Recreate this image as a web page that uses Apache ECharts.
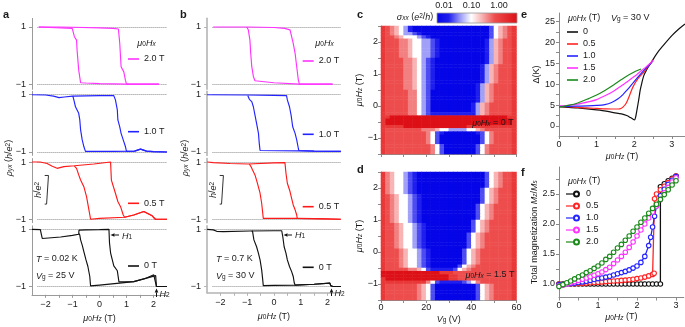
<!DOCTYPE html>
<html><head><meta charset="utf-8">
<script src="https://cdn.jsdelivr.net/npm/echarts@6/dist/echarts.min.js"></script>
<style>html,body{margin:0;padding:0;background:#fff}#chart{width:685px;height:327px}</style>
</head><body><div id="chart"></div><script>
// ---------------- DATA ----------------
const loopNames = ['2.0 T', '1.0 T', '0.5 T', '0 T'];
const loopColors = ['#ff33ff', '#2323ff', '#ff1a1a', '#111111'];
// panel a (T = 0.02 K, Vg = 25 V): [mu0Hz (T), rho_yx (h/e^2)]
const aPinkUp = [[-2.25,1],[-1.5,1],[-1.0,0.99],[0,0.97],[0.5,0.95],[0.7,0.93],[0.72,0.89],[0.75,0.43],[0.8,-0.39],[0.9,-0.57],[0.96,-0.86],[1.0,-1],[2.2,-1]];
const aPinkDown = [[2.2,-1],[1.0,-1],[0,-0.98],[-0.5,-0.96],[-0.7,-0.95],[-0.77,-0.51],[-0.83,0.19],[-0.85,0.54],[-0.93,0.66],[-1.01,0.95],[-1.04,1],[-2.25,1]];
const aBlueUp = [[-2.5,1],[-2.0,0.99],[-1.7,0.95],[-1.5,0.9],[-1.3,0.92],[-1.0,0.95],[0,0.97],[0.53,0.97],[0.59,0.82],[0.66,0.47],[0.68,0.12],[0.75,-0.12],[0.8,-0.35],[0.9,-0.64],[0.96,-0.81],[1.0,-0.98],[1.3,-0.97],[1.52,-0.9],[1.74,-0.97],[2.0,-0.99],[2.5,-1]];
const aBlueDown = [[2.5,-1],[2.0,-0.99],[1.74,-0.97],[1.52,-0.9],[1.3,-0.97],[0.5,-0.98],[-0.52,-0.98],[-0.58,-0.81],[-0.64,-0.58],[-0.7,-0.23],[-0.73,0.12],[-0.77,0.35],[-0.89,0.58],[-0.95,0.82],[-0.98,0.93],[-1.0,0.95]];
const aRedUp = [[-2.5,1],[-2.2,1],[-1.94,0.95],[-1.75,0.85],[-1.57,0.78],[-1.32,0.84],[-0.93,0.87],[-0.21,0.93],[0.41,1],[0.44,0.37],[0.59,-0.09],[0.68,-0.38],[0.78,-0.56],[0.88,-0.85],[0.93,-0.93],[1.27,-0.85],[1.64,-0.73],[1.95,-0.88],[2.07,-1],[2.5,-1]];
const aRedDown = [[2.5,-1],[2.07,-1],[1.95,-0.88],[1.64,-0.73],[1.27,-0.85],[0.93,-0.93],[0,-0.97],[-0.33,-1],[-0.39,-0.68],[-0.48,-0.21],[-0.58,0.14],[-0.7,0.37],[-0.77,0.55],[-0.85,0.78],[-0.93,0.86]];
const aBlackUp = [[-2.5,1],[-2.19,0.99],[-2.16,0.85],[-2.12,0.68],[-2.05,0.64],[-1.44,0.73],[-1.0,0.79],[-0.77,0.83],[-0.76,0.97],[-0.5,0.98],[0,0.99],[0.35,1],[0.37,0.53],[0.41,0.18],[0.47,-0.05],[0.53,-0.28],[0.66,-0.45],[0.72,-0.84],[0.74,-0.88],[1.27,-0.83],[1.7,-0.72],[2.01,-0.59],[2.08,-0.62],[2.11,-1],[2.5,-1]];
const aBlackDown = [[2.5,-1],[2.11,-1],[2.08,-0.62],[2.01,-0.59],[1.27,-0.83],[0.74,-0.88],[0,-0.95],[-0.33,-0.98],[-0.36,-0.65],[-0.43,-0.3],[-0.5,-0.07],[-0.58,0.22],[-0.64,0.45],[-0.7,0.63],[-0.73,0.8],[-0.76,0.85]];
// panel b (T = 0.7 K, Vg = 30 V)
const bPinkUp = [[-2.27,1],[-1.0,1],[0,0.98],[0.4,0.95],[0.6,0.9],[0.66,0.84],[0.72,0.43],[0.79,0.08],[0.85,-0.39],[0.91,-0.85],[0.95,-1],[2.19,-1]];
const bPinkDown = [[2.19,-1],[0.95,-1],[0,-0.95],[-0.71,-0.88],[-0.77,-0.73],[-0.83,-0.39],[-0.87,0.08],[-0.9,0.55],[-0.96,0.9],[-1.02,1]];
const bBlueUp = [[-2.5,1],[-1.0,0.99],[0,0.98],[0.47,0.97],[0.5,0.82],[0.58,0.58],[0.64,0.29],[0.7,-0.12],[0.79,-0.35],[0.85,-0.58],[0.91,-0.87],[0.93,-0.95],[1.5,-0.97],[2.5,-0.98]];
const bBlueDown = [[2.5,-0.98],[1.5,-0.97],[0.93,-0.96],[-0.52,-0.95],[-0.55,-0.7],[-0.58,-0.35],[-0.65,0.0],[-0.71,0.29],[-0.77,0.58],[-0.83,0.76],[-0.92,0.84],[-0.98,0.97]];
const bRedUp = [[-2.5,1],[-2.27,0.98],[-1.64,0.95],[-0.96,0.93],[-0.92,0.95],[0,0.97],[0.41,0.98],[0.45,0.6],[0.5,0.26],[0.6,-0.03],[0.66,-0.27],[0.72,-0.5],[0.79,-0.67],[0.85,-0.85],[0.87,-0.97],[1.5,-0.98],[2.5,-1]];
const bRedDown = [[2.5,-1],[1.5,-0.98],[0.87,-0.97],[0,-0.97],[-0.4,-0.97],[-0.42,-0.79],[-0.46,-0.44],[-0.52,-0.09],[-0.62,0.26],[-0.71,0.55],[-0.8,0.72],[-0.86,0.84],[-0.92,0.93]];
const bBlackUp = [[-2.5,1],[-2.27,0.98],[-2.2,0.94],[-2.14,0.93],[-1.89,0.92],[-0.9,0.94],[0,0.95],[0.29,0.95],[0.33,0.74],[0.38,0.39],[0.45,0.16],[0.5,-0.07],[0.58,-0.3],[0.66,-0.48],[0.72,-0.65],[0.76,-0.88],[0.79,-0.95],[1.5,-0.92],[2.09,-0.88],[2.12,-0.97],[2.2,-1],[2.5,-1]];
const bBlackDown = [[2.5,-1],[2.2,-1],[2.12,-0.97],[2.09,-0.88],[1.5,-0.92],[0.79,-0.95],[0,-0.96],[-0.4,-0.97],[-0.42,-0.77],[-0.46,-0.42],[-0.52,-0.07],[-0.58,0.16],[-0.65,0.39],[-0.75,0.63],[-0.8,0.92],[-0.83,0.95]];
const scaleBar = [[-2.03,0.53],[-1.89,0.53],[-1.96,0.53],[-1.96,-0.47],[-2.03,-0.47],[-1.89,-0.47]];
const abTickX = [-2,-1.5,-1,-0.5,0,0.5,1,1.5,2];
const abLabelX = [-2,-1,0,1,2];
const abLabelY = [-1,1];

// panels c, d: sigma_xx colour-level codes (0 deep blue ... 4 white ... 9 deep red)
const heatVg = [1,3,5,7,9,11,13,15,17,19,21,23,25,27,29,31,33,35,37,39,41,43,45,47,49,51,53,55,57,59];
const heatHz = [2.45,2.35,2.25,2.15,2.05,1.95,1.85,1.75,1.65,1.55,1.45,1.35,1.25,1.15,1.05,0.95,0.85,0.75,0.65,0.55,0.45,0.35,0.25,0.15,0.05,-0.05,-0.15,-0.25,-0.35,-0.45,-0.55,-0.65,-0.75,-0.85,-0.95,-1.05,-1.15,-1.25,-1.35,-1.45];
const heatC = [
'87654 31000 00000 00000 00002 45678',
'87654 31000 00000 00000 00002 45678',
'87654 33210 00000 00000 00002 45678',
'87765 44432 10000 00000 00002 45678',
'87776 65443 32100 00000 00013 56778',
'87776 65443 32100 00000 00013 56778',
'87776 65443 32100 00000 00013 56778',
'87776 65443 32100 00000 00013 56778',
'87776 65443 32100 00000 00013 56778',
'87776 65443 32100 00000 00013 56778',
'87777 66543 21000 00000 00013 56778',
'87777 66543 21000 00000 00013 56778',
'87777 66543 21000 00000 00135 67778',
'87777 66543 21000 00000 00135 67778',
'87777 66543 21000 00000 00135 67778',
'87777 66543 21000 00000 00135 67778',
'87777 66543 21000 00000 00135 67778',
'87777 66543 21000 00000 00135 67778',
'87777 66543 21000 00000 01356 77778',
'87777 66543 21000 00000 01356 77778',
'87777 76643 20000 00000 01356 77778',
'87777 76643 20000 00000 01356 77778',
'87777 76643 20000 00000 01356 77778',
'87777 76643 20000 00000 01356 77778',
'87777 76643 20000 00000 13567 77778',
'87777 76643 20000 00000 13567 77778',
'87777 76643 20000 00000 13567 77778',
'87777 76643 21111 11111 13567 77778',
'88999 99999 99999 99999 99999 99988',
'89999 99999 99999 99999 99999 99998',
'89999 99999 99999 99999 99999 99998',
'88888 99999 99999 99998 88888 88888',
'87777 77776 66544 33334 45677 77778',
'87777 77777 64210 00000 01246 77778',
'87777 77777 64200 00000 00246 77778',
'87777 77777 64200 00000 00246 77778',
'87777 77777 64200 00000 00246 77778',
'87777 77777 76420 00000 02467 77778',
'87777 77777 76420 00000 02467 77778',
'87777 77777 76420 00000 02467 77778'];
const heatD = [
'86544 32100 00000 00000 00024 56778',
'86544 32100 00000 00000 00024 56778',
'86544 32100 00000 00000 00024 56778',
'86544 32100 00000 00000 00024 56778',
'86544 32100 00000 00000 00024 56778',
'86544 32100 00000 00000 00245 67778',
'86544 32100 00000 00000 00245 67778',
'87654 43210 00000 00000 00245 67778',
'87654 43210 00000 00000 00245 67778',
'87654 43210 00000 00000 00245 67778',
'87654 43210 00000 00000 02456 77778',
'87654 43210 00000 00000 02456 77778',
'87654 43210 00000 00000 02456 77778',
'87654 43210 00000 00000 02456 77778',
'87654 43210 00000 00000 02456 77778',
'87654 43210 00000 00000 24567 77778',
'87765 44321 00000 00000 24567 77778',
'87765 44321 00000 00000 24567 77778',
'87765 44321 00000 00000 24567 77778',
'87765 44321 00000 00002 45677 77778',
'87765 44321 00000 00002 45677 77778',
'87765 44321 00000 00002 45677 77778',
'87765 44321 00000 00002 45677 77778',
'87765 44321 00000 00002 45677 77778',
'87776 54432 10000 00024 56777 77778',
'87776 54432 10000 00024 56777 77778',
'87776 54432 10000 00024 56777 77778',
'87776 54432 10000 00024 56777 77778',
'87776 54432 10000 00024 56777 77778',
'87776 54432 10000 00245 67777 77778',
'87777 76654 21111 12456 77777 77778',
'99999 99999 99988 87777 77777 77778',
'99999 99999 99999 88777 77777 77778',
'89999 99999 99999 88777 77777 77778',
'88888 88888 64211 11123 46777 77778',
'87777 77765 42000 00000 02456 77778',
'87777 77765 42000 00000 02456 77778',
'87777 77765 42000 00000 02456 77778',
'87777 77765 42000 00000 02456 77778',
'87777 77765 42000 00000 02456 77778'];
const heatColors = ['#0505e8','#1e1eee','#4c4cf2','#a0a0f8','#ffffff','#f8b4b4','#f28080','#ee4d4d','#e93838','#dc1016'];
const cdTickX = [0,10,20,30,40,50,60];
const cdLabelX = [0,20,40,60];
const cdTickY = [-1.5,-1,-0.5,0,0.5,1,1.5,2,2.5];
const cdLabelY = [-1,0,1,2];
const cbarLabels = [0.01, 0.1, 1];

// panel e: Delta (K) vs mu0Hz (T)
const eNames = ['e0','e0.5','e1.0','e1.5','e2.0'];
const eColors = ['#111111','#ff2424','#2424ff','#ff33ff','#1a8a1a'];
const eH0 = [[0,4.6],[0.25,4.45],[0.5,4.3],[0.75,4.1],[1.0,3.85],[1.25,3.55],[1.45,3.2],[1.66,2.9],[1.8,2.5],[1.9,2.0],[1.97,1.6],[2.01,1.45],[2.04,2.2],[2.08,4.2],[2.12,6.3],[2.16,8.6],[2.2,10.2],[2.25,11.9],[2.3,12.9],[2.36,13.9],[2.46,15.3],[2.6,17.3],[2.75,19.0],[3.0,21.6],[3.2,23.3],[3.35,24.4]];
const eH05 = [[0,4.7],[0.25,4.6],[0.5,4.45],[0.75,4.3],[1.0,4.2],[1.25,4.1],[1.5,4.05],[1.62,4.1],[1.7,4.5],[1.79,5.5],[1.88,7.4],[1.97,9.4],[2.1,11.3],[2.27,13.0],[2.4,14.6],[2.5,15.8]];
const eH10 = [[0,4.7],[0.25,4.7],[0.5,4.75],[0.75,4.8],[1.0,4.9],[1.22,5.1],[1.4,5.6],[1.57,6.5],[1.7,7.5],[1.8,8.5],[1.9,9.5],[1.97,10.3],[2.15,12.2],[2.3,13.7],[2.45,15.0],[2.5,15.6]];
const eH15 = [[0,4.8],[0.25,4.95],[0.5,5.2],[0.8,5.8],[1.0,6.3],[1.22,7.2],[1.45,8.3],[1.66,9.6],[1.85,10.8],[2.0,11.8],[2.15,12.9],[2.3,14.0],[2.45,15.2],[2.5,15.6]];
const eH20 = [[0,4.5],[0.25,4.9],[0.5,5.5],[0.8,6.6],[1.0,7.4],[1.22,8.5],[1.45,9.8],[1.66,11.1],[1.85,12.2],[2.0,12.9],[2.1,13.3],[2.18,13.6]];
const eTickX = [0,0.5,1,1.5,2,2.5,3];
const eLabelX = [0,1,2,3];
const eTickY = [0,2.5,5,7.5,10,12.5,15,17.5,20,22.5,25];
const eLabelY = [0,5,10,15,20,25];

// panel f: total magnetization Mz/Ms vs mu0Hz (T)
const fNames = ['f0','f0.5','f1.0','f1.5','f2.0'];
const fColors = ['#111111','#ff2424','#2424ff','#ff33ff','#1a8a1a'];
const fH0 = [[0,1],[0.1,1],[0.2,1],[0.3,1],[0.4,1],[0.5,1],[0.6,1],[0.7,1],[0.8,1],[0.9,1],[1,1],[1.1,1],[1.2,1],[1.3,1],[1.4,1],[1.5,1],[1.6,1],[1.7,1],[1.8,1],[1.9,1],[2,1],[2.1,1],[2.2,1],[2.3,1],[2.4,1],[2.5,1],[2.6,1],[2.6,2.62],[2.7,2.67],[2.8,2.72],[2.9,2.76],[3,2.8]];
const fH05 = [[0,1.0],[0.1,1.0],[0.2,1.0],[0.3,1.005],[0.4,1.005],[0.5,1.01],[0.6,1.01],[0.7,1.015],[0.8,1.02],[0.9,1.025],[1.0,1.03],[1.1,1.035],[1.2,1.04],[1.3,1.045],[1.4,1.05],[1.5,1.055],[1.6,1.06],[1.7,1.065],[1.8,1.07],[1.9,1.08],[2.0,1.09],[2.1,1.1],[2.2,1.115],[2.3,1.135],[2.4,1.16],[2.44,1.18],[2.45,2.42],[2.5,2.5],[2.6,2.57],[2.7,2.63],[2.8,2.69],[2.9,2.75],[3.0,2.8]];
const fH10 = [[0,0.99],[0.1,0.995],[0.2,1.0],[0.3,1.01],[0.4,1.015],[0.5,1.025],[0.6,1.035],[0.7,1.045],[0.8,1.06],[0.9,1.075],[1.0,1.09],[1.1,1.1],[1.2,1.115],[1.3,1.13],[1.4,1.15],[1.5,1.17],[1.6,1.19],[1.7,1.21],[1.8,1.235],[1.9,1.265],[2.0,1.3],[2.1,1.36],[2.2,1.46],[2.3,1.64],[2.35,1.78],[2.4,1.95],[2.45,2.13],[2.5,2.3],[2.6,2.47],[2.7,2.58],[2.8,2.66],[2.9,2.73],[3.0,2.79]];
const fH15 = [[0,0.97],[0.1,0.98],[0.2,1.0],[0.3,1.02],[0.4,1.04],[0.5,1.06],[0.6,1.08],[0.7,1.1],[0.8,1.12],[0.9,1.145],[1.0,1.17],[1.1,1.2],[1.2,1.24],[1.3,1.28],[1.4,1.34],[1.5,1.4],[1.6,1.46],[1.7,1.53],[1.8,1.61],[1.9,1.7],[2.0,1.8],[2.1,1.9],[2.2,2.0],[2.3,2.1],[2.4,2.2],[2.5,2.3],[2.6,2.41],[2.7,2.52],[2.8,2.61],[2.9,2.7],[3.0,2.77]];
const fH20 = [[0,0.96],[0.1,0.99],[0.2,1.02],[0.3,1.05],[0.4,1.085],[0.5,1.12],[0.6,1.15],[0.7,1.19],[0.8,1.22],[0.9,1.26],[1.0,1.3],[1.1,1.35],[1.2,1.41],[1.3,1.46],[1.4,1.53],[1.5,1.6],[1.6,1.66],[1.7,1.73],[1.8,1.8],[1.9,1.88],[2.0,1.95],[2.1,2.03],[2.2,2.1],[2.3,2.18],[2.4,2.26],[2.5,2.33],[2.6,2.41],[2.7,2.49],[2.8,2.57],[2.9,2.65],[3.0,2.72]];
const fTickX = [0,0.5,1,1.5,2,2.5,3];
const fLabelX = [0,1,2,3];
const fTickY = [1,1.25,1.5,1.75,2,2.25,2.5,2.75];
const fLabelY = [1,1.5,2,2.5];

// ---------------- STYLE / BUILD ----------------
const FONT = '"Liberation Sans", Arial, Helvetica, sans-serif';
const TXT = '#1a1a1a';
const AX = '#8a8a8a';
const RICH = {
  i: {fontStyle:'italic', fontSize:9, fontFamily:FONT, color:TXT},
  s: {fontSize:6.5, fontFamily:FONT, color:TXT, verticalAlign:'bottom'},
  si: {fontSize:6.5, fontStyle:'italic', fontFamily:FONT, color:TXT, verticalAlign:'bottom'},
  sup: {fontSize:6.5, fontFamily:FONT, color:TXT, verticalAlign:'top'}
};
const GRICH = {
  i: {fontStyle:'italic', fontSize:9, fontFamily:FONT, fill:TXT},
  s: {fontSize:6.5, fontFamily:FONT, fill:TXT, verticalAlign:'bottom'},
  si: {fontSize:6.5, fontStyle:'italic', fontFamily:FONT, fill:TXT, verticalAlign:'bottom'},
  sup: {fontSize:6.5, fontFamily:FONT, fill:TXT, verticalAlign:'top'}
};
const minus = v => String(v).replace('-', '\u2212');
const HZ = '{i|μ}{s|0}{i|H}{si|z} (T)';

function axis(gi, min, max, ticks, labels, o) {
  o = o || {};
  return {
    type: 'value', gridIndex: gi, min, max, show: o.show !== false,
    splitLine: {show:false},
    axisLine: {show: o.line !== false, onZero:false, lineStyle:{color: o.lineColor || AX, width: o.lineWidth || 1}},
    axisTick: {show: !!ticks, customValues: ticks || [], length: o.tickLen || 3, lineStyle:{color: o.lineColor || AX, width:1}},
    axisLabel: {show: !!labels, customValues: labels || [], formatter: o.fmt || minus, margin: o.margin == null ? 4 : o.margin,
      fontSize: 9, color: TXT, fontFamily: FONT},
    name: o.name, nameLocation: 'middle', nameGap: o.nameGap,
    nameTextStyle: {fontSize: 9, color: TXT, fontFamily: FONT, rich: RICH}
  };
}
function catAxis(gi, data, inverse) {
  return {type:'category', gridIndex: gi, data: data.map(String), show:false, inverse: !!inverse, boundaryGap:true};
}

const grids = [], xAxes = [], yAxes = [], series = [];
const subY = [
  {top:18.4, height:70.9, min:-1.18, max:1.3},
  {top:91.3, height:64.1, min:-1.12, max:1.12},
  {top:158.6, height:64.1, min:-1.12, max:1.12},
  {top:225.9, height:68.9, min:-1.29, max:1.12}
];
const panelAB = [{left:32, width:135, loops:[[aPinkUp,aPinkDown],[aBlueUp,aBlueDown],[aRedUp,aRedDown],[aBlackUp,aBlackDown]], lineW:1, lineC:'#9a9a9a'},
                 {left:207.1, width:133.75, loops:[[bPinkUp,bPinkDown],[bBlueUp,bBlueDown],[bRedUp,bRedDown],[bBlackUp,bBlackDown]], lineW:1.6, lineC:'#b4b4b4'}];
panelAB.forEach((p, pi) => {
  subY.forEach((s, k) => {
    const gi = grids.length;
    let sy = s;
    if (pi === 1 && k === 3) sy = {top:225.9, height:66.9, min:-1.22, max:1.12};
    grids.push({left:p.left, top:sy.top, width:p.width, height:sy.height, outerBoundsMode:'none'});
    const bottom = k === 3;
    const xi = xAxes.length, yi = yAxes.length;
    xAxes.push(axis(gi, -2.5, 2.5, bottom ? abTickX : null, bottom ? abLabelX : null,
      {show: bottom, lineColor: p.lineC, lineWidth: p.lineW, margin: 5, name: bottom ? HZ : undefined, nameGap: 19}));
    yAxes.push(axis(gi, sy.min, sy.max, abLabelY, abLabelY, {lineColor: p.lineC, lineWidth: p.lineW, margin: 6}));
    p.loops[k].forEach((d, h) => {
      series.push({type:'line', name: loopNames[k], xAxisIndex: xi, yAxisIndex: yi, data: d,
        symbol:'none', showSymbol:false, z: 3, silent: true,
        lineStyle:{color: loopColors[k], width: 1.15}, itemStyle:{color: loopColors[k]},
        markLine: h === 0 ? {silent:true, symbol:'none', z:1, animation:false, label:{show:false},
          lineStyle:{color:'#8c8c8c', type:'dotted', width:1},
          data:[[{coord:[-2.3,1]},{coord:[2.5,1]}],[{coord:[-2.3,-1]},{coord:[2.5,-1]}]]} : undefined});
    });
    if (k === 2) {
      series.push({type:'line', xAxisIndex: xi, yAxisIndex: yi, data: scaleBar, symbol:'none', silent:true,
        lineStyle:{color:'#333', width:1}});
    }
  });
});

// c, d heatmaps
const heatPanels = [{top:26, rows: heatC, labels:false}, {top:172, rows: heatD, labels:true}];
const heatSeriesIdx = [];
heatPanels.forEach(hp => {
  const gi = grids.length;
  grids.push({left:381, top:hp.top, width:135.5, height:128, outerBoundsMode:'none'});
  xAxes.push(axis(gi, 0, 60, cdTickX, hp.labels ? cdLabelX : null,
    {margin: 3, name: hp.labels ? '{i|V}{s|g} (V)' : undefined, nameGap: 15}));
  const xc = xAxes.length; xAxes.push(catAxis(gi, heatVg, false));
  yAxes.push(axis(gi, -1.5, 2.5, cdTickY, cdLabelY, {margin: 3, name: HZ, nameGap: 12}));
  const yc = yAxes.length; yAxes.push(catAxis(gi, heatHz, true));
  const data = [];
  hp.rows.forEach((r, j) => {
    const s = r.replace(/ /g, '');
    for (let i = 0; i < s.length; i++) data.push([i, j, Number(s[i])]);
  });
  heatSeriesIdx.push(series.length);
  series.push({type:'heatmap', xAxisIndex: xc, yAxisIndex: yc, data, silent:true, z:1,
    itemStyle:{borderWidth:0}, emphasis:{disabled:true}});
});

// e
let gi = grids.length, xi = xAxes.length, yi = yAxes.length;
grids.push({left:559, top:13, width:126, height:123, outerBoundsMode:'none'});
xAxes.push(axis(gi, 0, 3.35, eTickX, eLabelX, {margin:4, name: HZ, nameGap: 16}));
yAxes.push(axis(gi, -2.4, 27, eTickY, eLabelY, {margin:4, name:'Δ(K)', nameGap: 17}));
[eH0, eH05, eH10, eH15, eH20].forEach((d, k) => {
  series.push({type:'line', name: eNames[k], xAxisIndex: xi, yAxisIndex: yi, data: d, smooth: 0.3,
    symbol:'none', showSymbol:false, silent:true, z: 3 + (k === 0 ? 0 : 1),
    lineStyle:{color: eColors[k], width: 1.2}, itemStyle:{color: eColors[k]}});
});
// f
gi = grids.length; xi = xAxes.length; yi = yAxes.length;
grids.push({left:559, top:167, width:124.8, height:130.5, outerBoundsMode:'none'});
xAxes.push(axis(gi, 0, 3.2, fTickX, fLabelX, {margin:4, name: HZ, nameGap: 15}));
yAxes.push(axis(gi, 0.775, 2.95, fTickY, fLabelY, {margin:4, fmt: v => Number(v).toFixed(1),
  name:'Total magnetization {i|M}{si|z}/{i|M}{si|s}', nameGap: 19}));
[fH0, fH05, fH10, fH15, fH20].forEach((d, k) => {
  series.push({type:'line', name: fNames[k], xAxisIndex: xi, yAxisIndex: yi, data: d,
    symbol:'circle', symbolSize: 4.5, showSymbol:true, silent:true, z: 3 + k,
    lineStyle:{color: fColors[k], width: 1.3}, itemStyle:{color:'#ffffff', borderColor: fColors[k], borderWidth: 1.1}});
});
// colour bar
gi = grids.length;
grids.push({left:437, top:13, width:80, height:10, show:true, borderColor:'#9a9a9a', borderWidth:0.8, outerBoundsMode:'none',
  backgroundColor:{type:'linear', x:0, y:0, x2:1, y2:0, colorStops:[
    {offset:0, color:heatColors[0]},{offset:0.15, color:heatColors[1]},{offset:0.3, color:heatColors[3]},
    {offset:0.43, color:heatColors[4]},{offset:0.56, color:heatColors[5]},{offset:0.72, color:heatColors[7]},{offset:1, color:heatColors[9]}]}});
xAxes.push({type:'log', gridIndex: gi, min: 0.0056, max: 4.5, position:'top',
  axisLine:{show:false}, axisTick:{show:false}, splitLine:{show:false},
  axisLabel:{show:true, customValues: cbarLabels, formatter: v => Number(v).toFixed(2), margin: 3, fontSize: 9, color: TXT, fontFamily: FONT}});
yAxes.push({type:'value', gridIndex: gi, min:0, max:1, show:false});

// ---------------- LEGENDS ----------------
function leg(left, top, names, o) {
  o = o || {};
  return {left, top, data: names, orient:'vertical', itemWidth: o.w || 11, itemHeight: o.h || 10, itemGap: o.gap == null ? 2 : o.gap, padding: 0,
    selectedMode: false, formatter: o.fmt, icon: o.icon,
    textStyle:{fontSize: 9, color: TXT, fontFamily: FONT, lineHeight: 10, padding: o.tp || 0}};
}
const LINE_ICON = 'path://M0,0 L11,0 L11,1.6 L0,1.6 Z';
const legends = [
  leg(128, 54, ['2.0 T'], {icon: LINE_ICON}), leg(128, 126.7, ['1.0 T'], {icon: LINE_ICON}),
  leg(128, 198.3, ['0.5 T'], {icon: LINE_ICON}), leg(128, 261, ['0 T'], {icon: LINE_ICON}),
  leg(302.7, 56, ['2.0 T'], {icon: LINE_ICON}), leg(302.7, 129.3, ['1.0 T'], {icon: LINE_ICON}),
  leg(302.7, 201.7, ['0.5 T'], {icon: LINE_ICON}), leg(302.7, 262.3, ['0 T'], {icon: LINE_ICON}),
  leg(567, 27, eNames, {fmt: n => n.slice(1), icon: LINE_ICON}),
  leg(573, 189, fNames, {fmt: n => n.slice(1), icon:'circle', w: 5, h: 10, tp: [0, 0, 0, 2]})
];

// ---------------- ANNOTATIONS ----------------
function gtext(x, y, text, o) {
  o = o || {};
  return {type:'text', x, y, rotation: o.rot || 0, z: 100, silent: true,
    style:{text, fontSize: o.size || 9, fontFamily: FONT, fontWeight: o.bold ? 'bold' : 'normal', fill: TXT,
      align: o.align || 'left', verticalAlign:'middle', rich: GRICH}};
}
function arrow(x1, y1, x2, y2) {
  const a = Math.atan2(y2 - y1, x2 - x1), L = 4, W = 1.8;
  const bx = x2 - L * Math.cos(a), by = y2 - L * Math.sin(a);
  const px = -Math.sin(a) * W, py = Math.cos(a) * W;
  return [
    {type:'line', z:100, silent:true, shape:{x1, y1, x2: bx, y2: by}, style:{stroke:'#111', lineWidth:1}},
    {type:'polygon', z:100, silent:true, shape:{points:[[x2, y2],[bx + px, by + py],[bx - px, by - py]]}, style:{fill:'#111'}}
  ];
}
// short line segments to the left of the f legend circles
const fLegLines = fColors.map((c, k) => ({type:'line', z:99, silent:true,
  shape:{x1:566, y1:194 + 12 * k, x2:574, y2:194 + 12 * k}, style:{stroke:c, lineWidth:1.2}}));
const G = [
  gtext(3, 15, 'a', {bold:true, size:11}), gtext(180, 15, 'b', {bold:true, size:11}),
  gtext(357, 15, 'c', {bold:true, size:11}), gtext(357, 170, 'd', {bold:true, size:11}),
  gtext(521, 15, 'e', {bold:true, size:11}), gtext(521, 173, 'f', {bold:true, size:11}),
  gtext(9, 158, '{i|ρ}{si|yx} ({i|h}/{i|e}{sup|2})', {rot: Math.PI / 2, align:'center'}),
  gtext(185, 158, '{i|ρ}{si|yx} ({i|h}/{i|e}{sup|2})', {rot: Math.PI / 2, align:'center'}),
  gtext(146.5, 43, '{i|μ}{s|0}{i|H}{si|x}', {align:'center'}),
  gtext(324.5, 43, '{i|μ}{s|0}{i|H}{si|x}', {align:'center'}),
  gtext(38, 190, '{i|h}/{i|e}{sup|2}', {rot: Math.PI / 2, align:'center'}),
  gtext(213, 190, '{i|h}/{i|e}{sup|2}', {rot: Math.PI / 2, align:'center'}),
  gtext(36, 259, '{i|T} = 0.02 K'), gtext(36, 276, '{i|V}{s|g} = 25 V'),
  gtext(216, 259, '{i|T} = 0.7 K'), gtext(216, 276, '{i|V}{s|g} = 30 V'),
  gtext(122, 236, '{i|H}{s|1}'), gtext(295, 235, '{i|H}{s|1}'),
  gtext(159.5, 294, '{i|H}{s|2}'), gtext(334.5, 293, '{i|H}{s|2}'),
  gtext(493, 123, '{i|μ}{s|0}{i|H}{si|x} = 0 T', {align:'center'}),
  gtext(490, 275, '{i|μ}{s|0}{i|H}{si|x} = 1.5 T', {align:'center'}),
  gtext(415, 17, '{i|σ}{si|xx} ({i|e}{sup|2}/{i|h})', {align:'center'}),
  gtext(568, 18, '{i|μ}{s|0}{i|H}{si|x} (T)'), gtext(611, 18, '{i|V}{s|g} = 30 V'),
  gtext(568, 181, '{i|μ}{s|0}{i|H}{si|x} (T)')
].concat(arrow(119, 235, 110.5, 235), arrow(292, 235, 283.5, 235),
         arrow(156.5, 297, 156.5, 288.5), arrow(331.5, 296, 331.5, 288.5), fLegLines);

const chart = echarts.init(document.getElementById('chart'), null, {renderer:'canvas'});
chart.setOption({
  animation: false,
  backgroundColor: '#ffffff',
  textStyle: {fontFamily: FONT, color: TXT},
  grid: grids, xAxis: xAxes, yAxis: yAxes, series,
  legend: legends,
  visualMap: {type:'continuous', show:false, min:0, max:9, seriesIndex: heatSeriesIdx, inRange:{color: heatColors}},
  graphic: {elements: G}
});
</script></body></html>
